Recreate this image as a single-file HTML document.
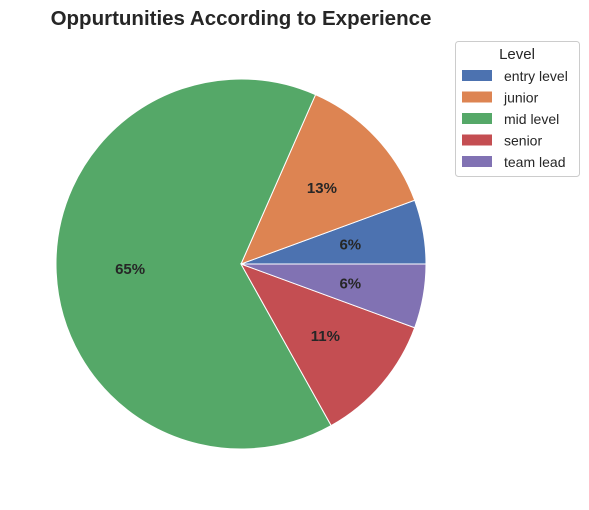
<!DOCTYPE html>
<html><head><meta charset="utf-8"><style>
body{margin:0;background:#fff;font-family:"Liberation Sans",sans-serif;}
svg text{font-family:"Liberation Sans",sans-serif;}
</style></head><body>
<svg id="chart" width="589" height="505">
<text x="241" y="25" text-anchor="middle" font-size="20.5" font-weight="bold" fill="#262626">Oppurtunities According to Experience</text>
<g id="slices"></g>
<g id="legend">
<rect x="455.5" y="41.5" width="124" height="135" rx="3" fill="#fff" stroke="#ccc"/>
<text x="517" y="59" text-anchor="middle" font-size="15" fill="#262626">Level</text>
</g>
</svg>
<script>
const categories=["entry level","junior","mid level","senior","team lead"];
const values=[5.6,12.8,64.7,11.3,5.6];
const labels=["6%","13%","65%","11%","6%"];
const colors=["#4c72b0","#dd8452","#55a868","#c44e52","#8172b3"];
const ns="http://www.w3.org/2000/svg";
const cx=241,cy=264,r=185;
const total=values.reduce((a,b)=>a+b,0);
const g=document.getElementById('slices');
let a0=0;
function pt(a,rr){return [cx+rr*Math.cos(a),cy-rr*Math.sin(a)];}
values.forEach((v,i)=>{
  const a1=a0+v/total*2*Math.PI;
  const p0=pt(a0,r),p1=pt(a1,r);
  const large=(a1-a0)>Math.PI?1:0;
  const p=document.createElementNS(ns,'path');
  p.setAttribute('d',`M${cx},${cy}L${p0[0]},${p0[1]}A${r},${r} 0 ${large} 0 ${p1[0]},${p1[1]}Z`);
  p.setAttribute('fill',colors[i]);p.setAttribute('stroke','#fff');p.setAttribute('stroke-width','1');
  
  
  g.appendChild(p);
  const m=(a0+a1)/2,lp=pt(m,r*0.6);
  const t=document.createElementNS(ns,'text');
  t.setAttribute('x',lp[0]);t.setAttribute('y',lp[1]+5);t.setAttribute('text-anchor','middle');
  t.setAttribute('font-size','15');t.setAttribute('font-weight','bold');t.setAttribute('fill','#262626');
  t.textContent=labels[i];
  
  
  g.appendChild(t);
  a0=a1;
});
const lg=document.getElementById('legend');
categories.forEach((c,i)=>{
  const y=76+i*21.5;
  const rc=document.createElementNS(ns,'rect');
  rc.setAttribute('x',462);rc.setAttribute('y',y-6);rc.setAttribute('width',30);rc.setAttribute('height',11);
  rc.setAttribute('fill',colors[i]);
  
  
  lg.appendChild(rc);
  const t=document.createElementNS(ns,'text');
  t.setAttribute('x',504);t.setAttribute('y',y+5);t.setAttribute('font-size','14');t.setAttribute('fill','#262626');
  t.textContent=c;
  
  
  lg.appendChild(t);
});
</script>
</body></html>
